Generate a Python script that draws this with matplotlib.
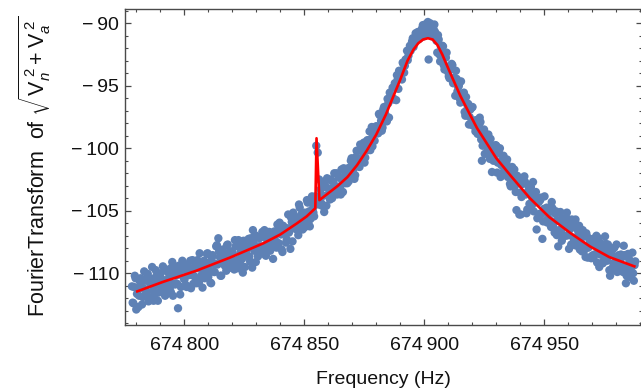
import numpy as np
import matplotlib
matplotlib.use("Agg")
import matplotlib.pyplot as plt
from matplotlib.ticker import FixedLocator, MultipleLocator

plt.rcParams['font.family'] = ['Liberation Sans', 'DejaVu Sans']
plt.rcParams['mathtext.fontset'] = 'custom'
plt.rcParams['mathtext.rm'] = 'Liberation Sans'
plt.rcParams['mathtext.it'] = 'Liberation Sans:italic'
plt.rcParams['mathtext.bf'] = 'Liberation Sans:bold'

# ---- measured spectrum (FFT bins, 0.3 Hz apart; even and odd bins listed separately) ----
bin_start = 674778.2   # Hz
bin_step = 0.3         # Hz

even_wing_low = [
    -111.05, -112.4, -110.2, -112.9, -111.2, -111.8, -110.4, -112.5, -111.2, -110.6,
    -111.5, -110.05, -111.95, -110.7, -109.5, -112.2, -111.0, -110.2, -112.2, -110.5,
    -110.0, -111.35, -110.55, -111.8, -109.7, -110.9, -110.2, -111.5, -109.1, -110.85,
    -110.9, -109.5, -112.8, -110.1, -111.1, -109.0, -110.4, -109.6, -111.1, -110.0,
    -109.6, -111.2, -108.95, -110.2, -109.2, -110.8, -109.6, -108.4, -110.2, -111.15,
    -109.0, -109.8, -108.45, -110.3, -109.2, -110.8, -108.55, -109.9, -109.25, -107.75,
    -107.2, -108.7, -110.2, -108.1, -109.0, -109.35, -107.75, -109.6, -108.25, -108.95,
    -108.4, -109.7, -107.85, -108.95, -107.35, -109.2, -108.5, -109.95, -107.8, -108.3,
    -108.6, -107.25, -109.05, -107.6, -106.55, -108.2, -109.1, -107.1, -107.85, -108.4,
    -107.1, -108.0, -106.55, -108.6, -107.4, -106.7, -108.2, -107.0, -108.85, -106.65,
    -107.45, -106.1, -107.6, -106.55, -108.1, -106.2, -106.7, -107.55, -106.4, -106.75,
    -108.05, -105.9, -105.15, -106.4, -105.5, -106.5, -104.5, -106.0, -105.2, -106.4,
]
even_rise = [
    -105.15, -106.25, -104.35, -105.05, -105.65, -103.85, -105.15, -104.15, -99.8, -100.35,
    -102.5, -103.3, -104.6, -103.8, -102.7, -104.6, -103.2, -103.8, -102.5, -104.0,
    -102.7, -103.6, -102.0, -103.1, -102.3, -103.7, -102.6, -101.6, -102.8, -101.9,
    -101.6, -102.45, -101.0, -101.85, -101.2, -102.15, -100.2, -101.05, -101.5, -100.15,
    -100.25, -99.55, -100.75, -99.45, -100.15, -98.65, -99.25, -99.85, -98.35, -98.55,
    -98.25, -98.8, -97.35, -97.8, -98.35, -96.7, -97.3, -97.85, -96.4, -95.55,
    -95.95, -95.15, -96.05, -94.85, -94.15, -95.25, -94.05, -94.05, -93.15, -93.95,
    -92.9, -92.2, -92.6, -91.8, -91.95, -91.2, -91.45, -90.8, -91.3, -90.9,
]
even_crest = [
    -90.65, -90.9, -90.15, -90.6, -90.25, -90.9, -92.9, -90.0, -90.65, -90.4,
    -90.1, -91.1, -92.35, -91.3, -93.05, -92.3, -91.85, -93.7, -92.75, -93.5,
]
even_fall = [
    -94.25, -93.4, -93.25, -94.8, -94.35, -93.8, -95.45, -95.0, -96.35, -95.7,
    -95.85, -97.1, -95.9, -96.85, -98.1, -96.9, -96.75, -98.2, -97.9, -97.75,
    -98.85, -98.1, -97.9, -101.0, -98.85, -100.45, -98.9, -99.5, -100.4, -99.25,
    -101.9, -101.0, -100.35, -99.8, -101.15, -100.4, -102.3, -100.95, -100.6, -101.95,
    -101.2, -102.3, -101.75, -103.05, -101.5, -102.3, -103.0, -104.95, -102.35, -105.3,
    -105.3, -102.75, -103.65, -102.7, -105.2, -103.45, -104.45, -103.1, -104.0, -105.05,
]
even_tail = [
    -103.8, -106.5, -104.3, -105.25, -103.95, -107.25, -104.85, -105.85, -104.75, -105.6,
    -105.1, -106.3, -104.8, -105.95, -105.25, -106.95, -107.85, -105.8, -106.6, -105.6,
    -107.0, -106.0, -105.15, -106.95, -106.5, -107.7, -106.05, -107.35, -105.7, -107.8,
    -106.7, -108.1, -107.15, -106.55, -107.9, -108.7, -107.05, -107.95, -107.5, -108.8,
    -107.25, -108.5, -107.8, -109.15, -107.2, -108.5, -107.85, -109.2, -108.35, -107.65,
    -109.0, -108.05, -110.2, -108.55, -109.5, -107.95, -109.1, -109.9, -108.55, -109.5,
    -108.75, -109.9, -108.55, -110.8, -109.45, -108.8, -110.3, -109.15, -110.0, -109.35,
]

odd_wing_low = [
    -112.35, -111.1, -110.4, -111.65, -112.7, -110.65, -111.15, -111.9, -109.85, -111.35,
    -110.3, -112.25, -110.8, -110.45, -111.4, -111.9, -109.75, -110.8, -111.55, -110.3,
    -111.1, -109.45, -111.3, -111.7, -109.85, -110.45, -111.1, -109.55, -111.8, -110.05,
    -110.2, -110.85, -109.4, -111.7, -109.75, -109.15, -110.5, -110.95, -109.5, -110.15,
    -109.0, -110.15, -110.85, -109.5, -110.45, -108.95, -110.75, -109.25, -109.6, -110.35,
    -110.4, -109.15, -108.4, -109.75, -110.75, -108.75, -109.25, -109.9, -107.85, -109.3,
    -108.25, -110.2, -108.8, -108.45, -109.4, -109.8, -107.7, -108.75, -109.5, -108.25,
    -109.0, -107.35, -109.3, -109.6, -107.75, -108.3, -108.85, -107.4, -109.5, -107.85,
    -108.0, -108.65, -107.2, -109.55, -107.6, -106.95, -108.2, -108.65, -107.2, -107.85,
    -106.7, -107.85, -108.5, -107.15, -107.9, -106.7, -107.75, -106.95, -107.2, -107.9,
    -107.95, -106.7, -105.95, -106.9, -108.3, -106.75, -106.8, -107.3, -105.3, -106.6,
    -105.55, -107.45, -106.0, -105.6, -106.5, -106.95, -104.75, -105.75, -106.5, -105.2,
]
odd_rise = [
    -105.85, -104.15, -105.95, -106.25, -104.35, -104.85, -105.45, -103.85, -103.9, -104.5,
    -103.8, -104.4, -102.9, -105.1, -103.1, -102.4, -103.7, -104.1, -102.6, -103.2,
    -102.0, -103.1, -103.7, -102.3, -103.2, -101.7, -103.5, -101.8, -102.1, -102.8,
    -102.65, -101.55, -100.8, -101.7, -102.45, -100.7, -100.95, -101.45, -99.7, -100.75,
    -99.75, -101.15, -99.8, -99.35, -99.95, -100.15, -98.3, -98.95, -99.4, -98.25,
    -98.8, -97.25, -98.55, -98.6, -96.9, -97.15, -97.5, -96.05, -97.55, -96.05,
    -95.9, -96.1, -94.8, -96.15, -94.5, -93.8, -94.45, -94.5, -93.25, -93.4,
    -92.9, -92.95, -92.1, -92.2, -91.45, -91.9, -91.3, -91.3, -90.7, -91.25,
]
odd_crest = [
    -90.95, -90.4, -91.05, -90.1, -90.55, -89.9, -90.8, -90.3, -91.05, -90.5,
    -90.7, -91.4, -90.95, -92.5, -91.85, -91.8, -93.35, -92.7, -92.35, -93.9,
]
odd_fall = [
    -94.4, -93.7, -93.35, -94.65, -95.8, -94.45, -95.1, -96.0, -94.65, -96.1,
    -95.55, -97.4, -96.45, -96.45, -97.5, -98.1, -96.7, -97.8, -98.65, -97.95,
    -98.7, -97.55, -99.3, -99.8, -98.5, -99.2, -99.9, -98.9, -100.85, -99.75,
    -100.05, -100.85, -99.75, -101.95, -100.4, -100.0, -101.35, -101.95, -100.85, -101.65,
    -100.9, -102.1, -102.85, -101.8, -102.85, -101.7, -103.5, -102.2, -102.65, -103.55,
    -103.9, -102.85, -102.25, -103.7, -104.9, -103.05, -103.65, -104.6, -102.7, -104.35,
]
odd_tail = [
    -103.5, -105.6, -104.3, -104.15, -105.25, -105.85, -103.85, -105.05, -105.95, -104.9,
    -105.8, -104.3, -106.3, -106.75, -105.05, -105.75, -106.55, -105.1, -107.4, -105.9,
    -106.2, -107.0, -105.65, -108.05, -106.2, -105.7, -107.15, -107.75, -106.4, -107.2,
    -106.2, -107.5, -108.25, -107.05, -108.1, -106.8, -108.75, -107.25, -107.7, -108.6,
    -108.75, -107.6, -107.0, -108.35, -109.5, -107.6, -108.15, -109.0, -107.05, -108.65,
    -107.7, -109.75, -108.4, -108.15, -109.2, -109.75, -107.7, -108.8, -109.65, -108.5,
    -109.35, -107.8, -109.75, -110.2, -108.45, -109.1, -109.8, -108.35, -110.6, -109.05,
]

# ---- fitted resonance curve ----
fit_freq = [
    674780.4, 674791.0, 674805.0, 674819.0, 674833.0, 674840.0, 674847.0, 674851.0,
    674854.6, 674855.1, 674856.3, 674860.0, 674864.0, 674868.0, 674872.0, 674876.0,
    674880.0, 674884.0, 674887.0, 674890.0, 674893.0, 674895.5, 674897.5, 674899.5,
    674901.5, 674903.5, 674905.5, 674907.5, 674909.5, 674912.0, 674915.0, 674919.0,
    674922.0, 674925.0, 674930.0, 674936.0, 674944.0, 674952.0, 674961.0, 674969.0,
    674977.0, 674987.5,
]
fit_level = [
    -111.45, -110.7, -109.8, -108.75, -107.6, -106.9, -106.0, -105.45,
    -104.8, -99.2, -104.15, -103.6, -103.0, -102.3, -101.35, -100.2,
    -98.9, -97.3, -95.9, -94.5, -93.0, -92.1, -91.6, -91.3,
    -91.2, -91.3, -91.75, -92.5, -93.4, -94.5, -95.8, -97.3,
    -98.4, -99.3, -100.8, -102.2, -104.0, -105.5, -106.8, -107.85,
    -108.7, -109.45,
]

x_major = [674800, 674850, 674900, 674950]
y_major = [-90, -95, -100, -105, -110]

even = even_wing_low + even_rise + even_crest + even_fall + even_tail
odd = odd_wing_low + odd_rise + odd_crest + odd_fall + odd_tail
levels = np.empty(len(even) + len(odd))
levels[0::2] = even
levels[1::2] = odd
freqs = bin_start + bin_step * np.arange(levels.size)

fig = plt.figure(figsize=(6.41, 3.89), dpi=100)
W, H = 641.0, 389.0
ax = fig.add_axes([124.5 / W, 1 - 325.0 / H, (642.0 - 124.5) / W, (325.0 - 8.5) / H])

ax.scatter(freqs, levels, s=36, color='#5E81B5', edgecolors='none', zorder=2)
ax.plot(fit_freq, fit_level, color='#FF0000', lw=1.9, zorder=3, solid_joinstyle='round')

ax.set_xlim(674775.1, 674990.7)
ax.set_ylim(-114.14, -88.82)

ax.xaxis.set_major_locator(FixedLocator(x_major))
ax.xaxis.set_minor_locator(MultipleLocator(10))
ax.yaxis.set_major_locator(FixedLocator(y_major))
ax.yaxis.set_minor_locator(MultipleLocator(1))
ax.set_xticklabels([f"{v // 1000}\u2009{v % 1000:03d}" for v in x_major])
ax.set_yticklabels([f"\u2212\u2009{abs(v)}" for v in y_major])

frame = '#4a4a4a'
for sp in ax.spines.values():
    sp.set_color(frame)
    sp.set_linewidth(1.0)
ax.tick_params(which='both', direction='in', top=True, right=True, color=frame,
               labelsize=14, labelcolor='#111111')
ax.tick_params(which='major', length=4.0, width=0.9)
ax.tick_params(which='minor', length=2.2, width=0.8)
ax.tick_params(axis='x', which='major', pad=9)
ax.tick_params(axis='y', which='major', pad=4)

ax.set_xlabel('Frequency (Hz)', fontsize=14, color='#111111', labelpad=12)
ax.set_ylabel(r'FourierTransform  of $\sqrt{\mathrm{V}_{n}^{\ 2}+\mathrm{V}_{a}^{\ 2}}$',
              fontsize=15.5, color='#111111', labelpad=13)

fig.savefig('out.png', dpi=100)
